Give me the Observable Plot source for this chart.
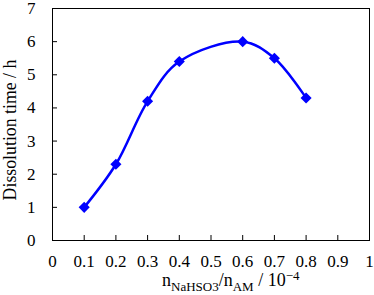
<!DOCTYPE html>
<html><head><meta charset="utf-8">
<script src="https://cdn.jsdelivr.net/npm/d3@7"></script>
<script src="https://cdn.jsdelivr.net/npm/@observablehq/plot@0.6"></script>
<style>body{margin:0;background:#fff} svg text{font-family:"Times New Roman","Liberation Serif",Tinos,"DejaVu Serif",serif !important;}</style>
</head><body><div id="chart"></div>
<script>
const ratio = [0.1, 0.2, 0.3, 0.4, 0.6, 0.7, 0.8];
const hours = [1.0, 2.3, 4.2, 5.4, 6.0, 5.5, 4.3];
const xTicks = [0, 0.1, 0.2, 0.3, 0.4, 0.5, 0.6, 0.7, 0.8, 0.9, 1];
const xTickLabels = ["0","0.1","0.2","0.3","0.4","0.5","0.6","0.7","0.8","0.9","1"];
const yTicks = [0, 1, 2, 3, 4, 5, 6, 7];
const yTickLabels = ["0","1","2","3","4","5","6","7"];
const yLabel = "Dissolution time / h";
const data = ratio.map((r, i) => ({r, h: hours[i]}));

const font = '"Times New Roman","Liberation Serif",Tinos,"DejaVu Serif",serif';
const chart = Plot.plot({
  width: 374, height: 295,
  marginLeft: 52, marginRight: 5, marginTop: 8, marginBottom: 55,
  style: {fontFamily: font, fontSize: "17px", color: "#000", background: "#fff"},
  x: {domain: [0, 1]},
  y: {domain: [0, 7]},
  marks: [
    Plot.frame({stroke: "#000", strokeWidth: 1}),
    Plot.axisX({ticks: xTicks, tickFormat: d => xTickLabels[xTicks.indexOf(d)], tickSize: 5, dy: -5, tickPadding: 14, label: null, fontSize: 17}),
    Plot.axisY({ticks: yTicks, tickFormat: d => yTickLabels[yTicks.indexOf(d)], tickSize: 5, dx: 5, tickPadding: 17, label: null, fontSize: 17}),
    Plot.line(data, {x: "r", y: "h", stroke: "#0000ff", strokeWidth: 2.5, curve: "catmull-rom"}),
    Plot.dot(data, {x: "r", y: "h", symbol: "diamond2", r: 5, fill: "#0000ff", stroke: "none"})
  ]
});
document.getElementById("chart").appendChild(chart);

const svg = d3.select(chart);
svg.append("text")
  .attr("transform", "translate(16,130) rotate(-90)")
  .attr("text-anchor", "middle")
  .attr("font-size", 17.8)
  .text(yLabel);
const xl = svg.append("text")
  .attr("x", 162).attr("y", 286).attr("text-anchor", "start")
  .attr("font-size", 18);
xl.append("tspan").text("n");
xl.append("tspan").attr("dy", 5).attr("font-size", 13).text("NaHSO3");
xl.append("tspan").attr("dy", -5).text("/n");
xl.append("tspan").attr("dy", 5).attr("font-size", 13).text("AM");
xl.append("tspan").attr("dy", -5).text(" / 10");
xl.append("tspan").attr("dy", -6).attr("font-size", 13).text("−4");
</script></body></html>
